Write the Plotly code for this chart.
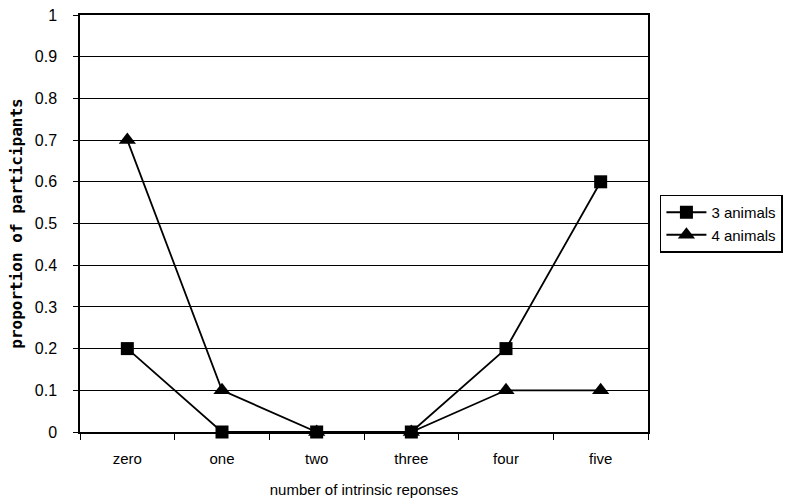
import plotly.graph_objects as go

categories = ["zero", "one", "two", "three", "four", "five"]
three_animals = [0.2, 0.0, 0.0, 0.0, 0.2, 0.6]
four_animals = [0.7, 0.1, 0.0, 0.0, 0.1, 0.1]
y_ticks = [0, 0.1, 0.2, 0.3, 0.4, 0.5, 0.6, 0.7, 0.8, 0.9, 1]
y_tick_labels = ["0", "0.1", "0.2", "0.3", "0.4", "0.5", "0.6", "0.7", "0.8", "0.9", "1"]

fig = go.Figure()

fig.add_trace(go.Scatter(
    x=categories, y=three_animals, name="3 animals",
    mode="lines+markers",
    line=dict(color="black", width=1.8),
    marker=dict(symbol="square", size=13, color="black"),
    cliponaxis=False,
))

fig.add_trace(go.Scatter(
    x=categories, y=four_animals, name="4 animals",
    mode="lines+markers",
    line=dict(color="black", width=1.8),
    marker=dict(symbol="triangle-up", size=15, color="black"),
    cliponaxis=False,
))

fig.update_layout(
    width=795, height=501,
    autosize=False,
    margin=dict(l=80, r=143, t=15, b=69),
    plot_bgcolor="white",
    paper_bgcolor="white",
    font=dict(family="Liberation Sans, Arial", size=15, color="black"),
    showlegend=True,
    legend=dict(
        x=1.021, y=0.5, xanchor="left", yanchor="middle",
        bordercolor="black", borderwidth=1.5,
        font=dict(size=15),
        itemwidth=40,
        tracegroupgap=0,
    ),
    xaxis=dict(
        type="category",
        range=[-0.5, 5.5],
        automargin=False,
        showline=True, linecolor="black", linewidth=1.5, mirror=True,
        ticks="outside", tickson="boundaries", ticklen=6, tickcolor="black",
        ticklabelstandoff=12,
        showgrid=False,
        title=dict(text="number of intrinsic reponses", standoff=19,
                   font=dict(size=15)),
    ),
    yaxis=dict(
        range=[0, 1],
        automargin=False,
        tickvals=y_ticks, ticktext=y_tick_labels,
        tickfont=dict(size=16),
        showline=True, linecolor="black", linewidth=1.5, mirror=True,
        ticks="outside", ticklen=5, tickcolor="black",
        ticklabelstandoff=13,
        showgrid=True, gridcolor="black", gridwidth=1.2,
        zeroline=False,
        title=dict(text="<b>proportion of participants</b>", standoff=8,
                   font=dict(family="DejaVu Sans Mono", size=16)),
    ),
)

# drop the default page margin so the figure sits at the window corner
fig.write_html("out.html", config={"displayModeBar": False},
               post_script="document.body.style.margin='0';")
